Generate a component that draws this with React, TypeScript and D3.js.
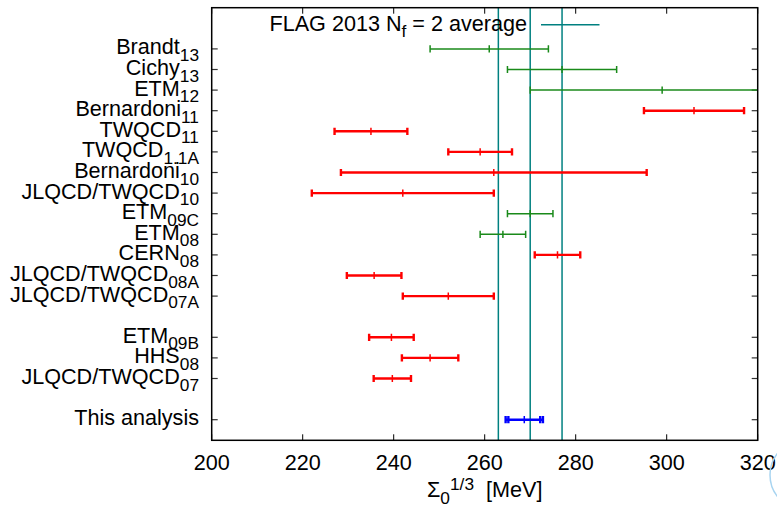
import React from "react";
import * as d3 from "d3";

// ---- data ----
const names = [
  "Brandt", "Cichy", "ETM", "Bernardoni", "TWQCD", "TWQCD", "Bernardoni",
  "JLQCD/TWQCD", "ETM", "ETM", "CERN", "JLQCD/TWQCD", "JLQCD/TWQCD", "",
  "ETM", "HHS", "JLQCD/TWQCD", "", "This analysis",
];
const subs = [
  "13", "13", "12", "11", "11", "1.1A", "10", "10", "09C", "08", "08", "08A",
  "07A", "", "09B", "08", "07", "", "",
];
const values = [
  261, 277, 299, 306, 235, 259, 262, 242, 270, 264, 276, 235.7, 252, NaN,
  239.5, 248, 239.7, NaN, 268.7,
];
const errors = [
  13, 12, 29, 11, 8, 7, 33.6, 20, 5, 5, 5, 6, 10, NaN, 4.9, 6.2, 4.1, NaN, 4.1,
];
const innerErrors = [
  NaN, NaN, NaN, NaN, NaN, NaN, NaN, NaN, NaN, NaN, NaN, NaN, NaN, NaN, NaN,
  NaN, NaN, NaN, 3.5,
];
const groups = [
  "g", "g", "g", "r", "r", "r", "r", "r", "g", "g", "r", "r", "r", "",
  "r", "r", "r", "", "b",
];
const flagAverage = [263, 270, 277];
const xTicks = [200, 220, 240, 260, 280, 300, 320];
const xDomain = [200, 320];

const colors: Record<string, string> = { g: "#1a8a1a", r: "#ff0000", b: "#0000ff" };
const widths: Record<string, number> = { g: 1.5, r: 2.4, b: 2.4 };
const FONT = "'Liberation Sans', Arial, Helvetica, sans-serif";
const FS = 21.6;
const SFS = 17.3;

export default function App() {
  const left = 211.7, right = 757.7, top = 7.7, bottom = 440.3;
  const x = d3.scaleLinear().domain(xDomain).range([left, right]);
  const y = d3.scaleLinear().domain([-2, 19]).range([top, bottom]);
  const cap = 3.6;
  const tickLen = 6;

  const rows = names.map((n, i) => ({ n, s: subs[i], v: values[i], e: errors[i], ie: innerErrors[i], g: groups[i], i }))
    .filter((r) => r.n !== "");

  return (
    <svg width={777} height={509} style={{ position: "absolute", left: 0, top: 0, background: "#fff" }}
      fontFamily={FONT}>
      <defs>
        <clipPath id="plotclip">
          <rect x={left} y={top} width={right - left} height={bottom - top} />
        </clipPath>
      </defs>
      <rect x={0} y={0} width={777} height={509} fill="#fff" />

      {/* ticks */}
      {xTicks.map((t) => (
        <g key={"xt" + t}>
          <line x1={x(t)} x2={x(t)} y1={bottom} y2={bottom - tickLen} stroke="#000" strokeWidth={1} />
          <line x1={x(t)} x2={x(t)} y1={top} y2={top + tickLen} stroke="#000" strokeWidth={1} />
          <text x={x(t)} y={469.5} fontSize={FS} textAnchor="middle" fill="#000">{t}</text>
        </g>
      ))}
      {rows.map((r) => (
        <g key={"yt" + r.i}>
          <line x1={left} x2={left + tickLen} y1={y(r.i)} y2={y(r.i)} stroke="#333" strokeWidth={1.2} />
          <line x1={right} x2={right - tickLen} y1={y(r.i)} y2={y(r.i)} stroke="#333" strokeWidth={1.2} />
          <text x={199} y={y(r.i) + 5.5} fontSize={FS} textAnchor="end" fill="#000">
            <tspan>{r.n}</tspan>
            {r.s ? <tspan fontSize={SFS} dy={6.5}>{r.s}</tspan> : null}
          </text>
        </g>
      ))}

      {/* FLAG average lines */}
      {flagAverage.map((v, k) => (
        <line key={"fl" + k} x1={x(v)} x2={x(v)} y1={top} y2={bottom} stroke="#008080" strokeWidth={1.5} />
      ))}

      {/* error bars */}
      <g clipPath="url(#plotclip)">
        {rows.map((r) => {
          const c = colors[r.g], w = widths[r.g], yy = y(r.i);
          const lo = x(r.v - r.e), hi = x(r.v + r.e), mid = x(r.v);
          return (
            <g key={"eb" + r.i} stroke={c} strokeWidth={w}>
              <line x1={lo} x2={hi} y1={yy} y2={yy} />
              <line x1={lo} x2={lo} y1={yy - cap} y2={yy + cap} />
              <line x1={hi} x2={hi} y1={yy - cap} y2={yy + cap} />
              <line x1={mid} x2={mid} y1={yy - cap} y2={yy + cap} strokeWidth={1.5} />
              {!isNaN(r.ie) ? (
                <>
                  <line x1={x(r.v - r.ie)} x2={x(r.v - r.ie)} y1={yy - cap} y2={yy + cap} />
                  <line x1={x(r.v + r.ie)} x2={x(r.v + r.ie)} y1={yy - cap} y2={yy + cap} />
                </>
              ) : null}
            </g>
          );
        })}
      </g>

      {/* frame */}
      <rect x={left} y={top} width={right - left} height={bottom - top} fill="none" stroke="#000" strokeWidth={1.5} />

      {/* legend */}
      <text x={527} y={31} fontSize={FS} textAnchor="end" fill="#000" style={{ whiteSpace: "pre" }}>
        <tspan>FLAG 2013 N</tspan>
        <tspan fontSize={SFS} dy={6}>f</tspan>
        <tspan dy={-6}> = 2 average</tspan>
      </text>
      <line x1={541} x2={599.5} y1={24.7} y2={24.7} stroke="#008080" strokeWidth={1.5} />

      {/* axis title */}
      <text x={484.7} y={496.7} fontSize={FS} textAnchor="middle" fill="#000" style={{ whiteSpace: "pre" }}>
        <tspan>Σ</tspan>
        <tspan fontSize={SFS} dy={7}>0</tspan>
        <tspan fontSize={SFS} dy={-14}>1/3</tspan>
        <tspan dy={7}>  [MeV]</tspan>
      </text>

      {/* decorative arc at bottom right */}
      <circle cx={805} cy={475} r={35} fill="none" stroke="#a8d4f0" strokeWidth={1.5} />
    </svg>
  );
}
